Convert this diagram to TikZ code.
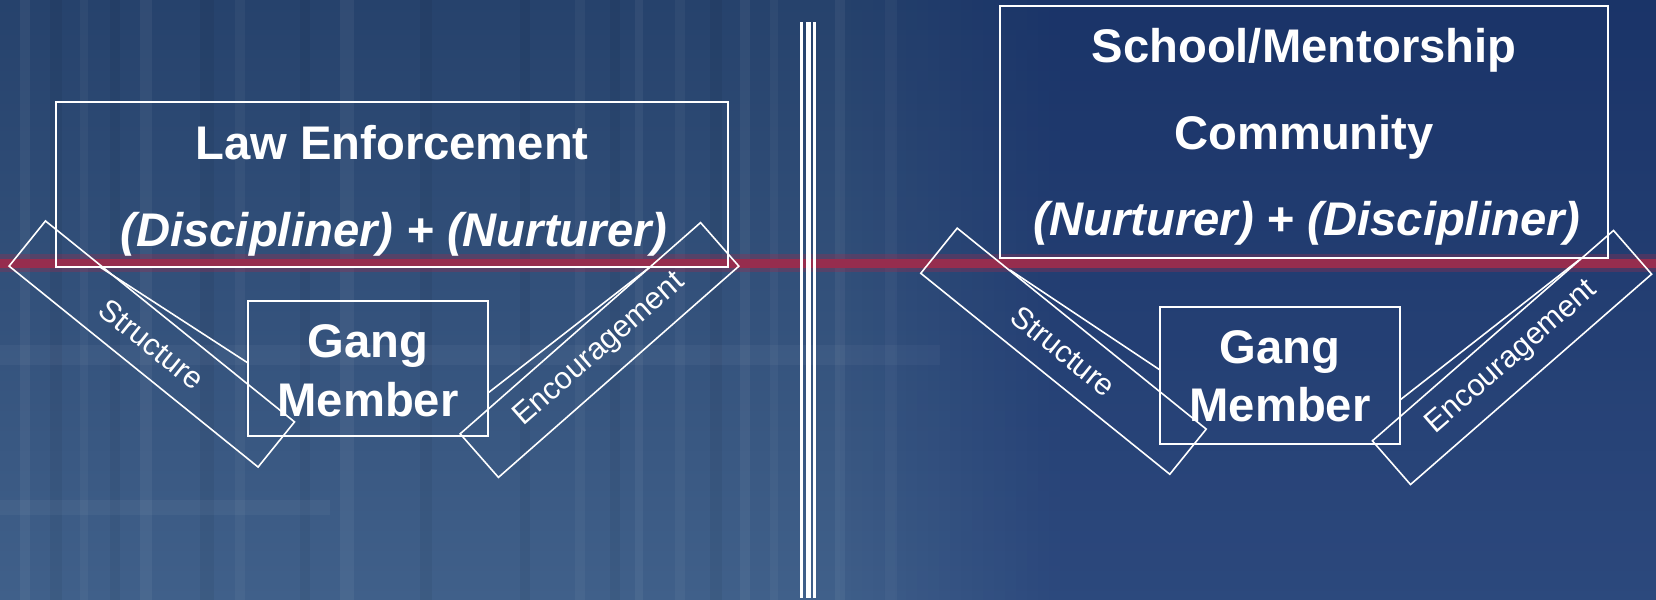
\documentclass[tikz,border=0pt]{standalone}
\usepackage{fontspec}
\setmainfont{Liberation Sans}
\definecolor{bgtopL}{RGB}{38,66,108}
\definecolor{bgbotL}{RGB}{64,96,138}
\definecolor{navyover}{RGB}{0,20,96}
\definecolor{redline}{RGB}{150,45,78}
\begin{document}
\begin{tikzpicture}[x=0.5pt,y=-0.5pt,
  frame/.style={draw=white, line width=0.8pt, inner sep=0pt},
  bigtext/.style={text=white, font=\bfseries\fontsize{23.6pt}{28pt}\selectfont, anchor=base, inner sep=0pt},
  bigital/.style={bigtext, font=\bfseries\itshape\fontsize{23.6pt}{28pt}\selectfont},
  band/.style={frame, minimum width=160pt, minimum height=29pt, text=white, font=\fontsize{15.3pt}{18pt}\selectfont},
  link/.style={draw=white, line width=0.8pt}]
\useasboundingbox (0,0) rectangle (1656,600);
% background
\fill[top color=bgtopL, bottom color=bgbotL] (0,0) rectangle (1656,600);
\foreach \x/\w/\o in {20/10/.05, 80/8/.04, 140/12/.05, 235/10/.04, 340/14/.05, 575/10/.04, 635/8/.05, 675/10/.04, 740/10/.05, 770/8/.04, 835/10/.05, 885/12/.04}
  \fill[white, opacity=\o] (\x,0) rectangle (\x+\w,600);
\foreach \x/\w in {50/12, 110/10, 200/14, 300/10, 420/12, 520/10, 610/10, 710/12}
  \fill[black, opacity=.05] (\x,0) rectangle (\x+\w,600);
\fill[white, opacity=.04] (0,345) rectangle (940,365);
\fill[white, opacity=.04] (0,500) rectangle (330,515);
\foreach \i in {1,...,20}
  \fill[navyover, opacity=0.015*\i] (829+11*\i,0) rectangle (840+11*\i,600);
\fill[navyover, opacity=0.3] (1060,0) rectangle (1656,600);
% red line
\fill[redline, opacity=.35] (0,254) rectangle (1656,272);
\fill[redline] (0,258.5) rectangle (1656,267.5);
% divider
\draw[white, line width=1.65pt] (801.6,22) -- (801.6,598);
\draw[white, line width=2.5pt] (808.2,22) -- (808.2,598);
\draw[white, line width=1.2pt] (814.5,22) -- (814.5,598);
% ---------- left panel ----------
\node[frame, minimum width=336pt, minimum height=82.5pt] (le) at (392,184.5) {};
\node[bigtext] (leA) at (392,159.5) {Law Enforcement};
\node[bigital] (leB) at (394,246) {(Discipliner) + (Nurturer)};
\node[frame, minimum width=120pt, minimum height=67.5pt] (gmL) at (368,368.5) {};
\node[bigtext] (gmLa) at (368,357) {Gang};
\node[bigtext] (gmLb) at (368,416) {Member};
\node[band, rotate=-38.9] (stL) at (151.8,344) {Structure};
\node[band, rotate=41.3] (enL) at (599.5,350) {Encouragement};
\coordinate (lsA) at (100,267);
\coordinate (lsB) at (248,363);
\draw[link] (lsA) -- (lsB);
\coordinate (leA1) at (650,267);
\coordinate (leB1) at (488,393);
\draw[link] (leA1) -- (leB1);
% ---------- right panel ----------
\node[frame, minimum width=304pt, minimum height=126pt] (sc) at (1304,132) {};
\node[bigtext] (scA) at (1304,62) {School/Mentorship};
\node[bigtext] (scB) at (1304,149) {Community};
\node[bigital] (scC) at (1307,235) {(Nurturer) + (Discipliner)};
\node[frame, minimum width=120pt, minimum height=68.5pt] (gmR) at (1280,375.5) {};
\node[bigtext] (gmRa) at (1280,363) {Gang};
\node[bigtext] (gmRb) at (1280,421) {Member};
\node[band, rotate=-38.9] (stR) at (1063.5,351.2) {Structure};
\node[band, rotate=41.1] (enR) at (1512,357.5) {Encouragement};
\coordinate (rsA) at (1010,270);
\coordinate (rsB) at (1160,370);
\draw[link] (rsA) -- (rsB);
\coordinate (reA) at (1579,260);
\coordinate (reB) at (1400,400);
\draw[link] (reA) -- (reB);
\end{tikzpicture}
\end{document}
